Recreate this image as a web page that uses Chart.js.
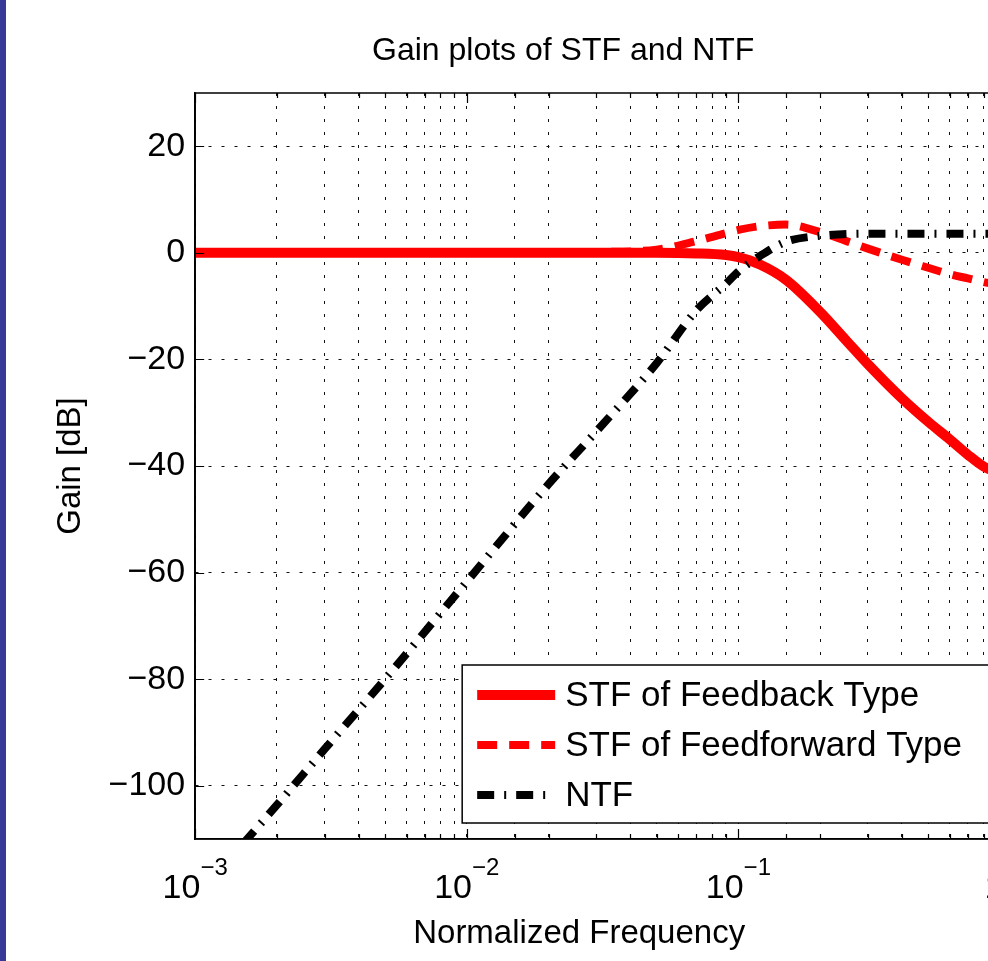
<!DOCTYPE html>
<html>
<head>
<meta charset="utf-8">
<script src="https://cdn.jsdelivr.net/npm/chart.js@4/dist/chart.umd.min.js"></script>
<style>
  html, body { margin: 0; padding: 0; background: #fff; overflow: hidden; }
  #wrap { position: relative; width: 988px; height: 961px; overflow: hidden; }
  #gainChart { position: absolute; left: 0; top: 0; }
  #stripe { position: absolute; left: 0; top: 0; width: 6px; height: 961px; background: #373898; }
</style>
</head>
<body>
<div id="wrap">
  <canvas id="gainChart" width="1126" height="961"></canvas>
  <div id="stripe"></div>
</div>
<script>
const FONT = "'Liberation Sans', Arial, Helvetica, sans-serif";

// (normalized frequency, gain in dB)
const stfFbFreq = [0.001, 0.01, 0.03, 0.05, 0.07, 0.09, 0.1, 0.12, 0.15, 0.2, 0.25, 0.3, 0.4, 0.5, 0.6, 0.7, 0.8, 0.9, 1];
const stfFbGain = [0, 0, 0, 0, -0.1, -0.4, -0.8, -2.2, -5.1, -11.1, -16.5, -20.9, -27.3, -31.7, -35.0, -37.9, -40.1, -41.2, -42.0];

const stfFfFreq = [0.001, 0.01, 0.02, 0.03, 0.05, 0.07, 0.09, 0.1, 0.12, 0.15, 0.2, 0.25, 0.3, 0.4, 0.5, 0.6, 0.7, 0.8, 0.9, 1];
const stfFfGain = [0, 0, 0.05, 0.15, 0.6, 2.2, 3.7, 4.3, 5.0, 5.3, 3.9, 2.2, 0.8, -1.3, -2.8, -4.0, -4.8, -5.5, -6.0, -6.4];

const ntfFreq = [0.0015, 0.002, 0.003, 0.005, 0.01, 0.02, 0.03, 0.05, 0.07, 0.09, 0.1, 0.12, 0.15, 0.2, 0.3, 0.5, 1];
const ntfGain = [-110.9, -103.6, -93.1, -80.0, -61.7, -43.4, -33.5, -20.7, -10.8, -5.8, -3.5, -0.6, 2.1, 3.2, 3.6, 3.6, 3.6];

const yTicks = [-100, -80, -60, -40, -20, 0, 20];

const toPoints = (xs, ys) => xs.map((f, i) => ({ x: f, y: ys[i] }));
const isDecade = (v) => Math.abs(Math.log10(v) - Math.round(Math.log10(v))) < 1e-6;
const minus = (v) => (v < 0 ? '\u2212' + Math.abs(v) : String(v));

// matlab-ish axes: inward ticks, closed box, title, 10^n labels, x label, legend box
const matlabAxes = {
  id: 'matlabAxes',
  afterDatasetsDraw(chart) {
    const { ctx, chartArea: a, scales: { x, y } } = chart;
    ctx.save();

    ctx.strokeStyle = '#000';
    ctx.lineWidth = 1.2;
    ctx.beginPath();
    x.ticks.forEach((t) => {
      const px = Math.round(x.getPixelForValue(t.value)) + 0.5;
      const len = isDecade(t.value) ? 10 : 5;
      ctx.moveTo(px, a.bottom); ctx.lineTo(px, a.bottom - len);
      ctx.moveTo(px, a.top); ctx.lineTo(px, a.top + len);
    });
    y.ticks.forEach((t) => {
      const py = Math.round(y.getPixelForValue(t.value)) + 0.5;
      ctx.moveTo(a.left, py); ctx.lineTo(a.left + 9, py);
      ctx.moveTo(a.right, py); ctx.lineTo(a.right - 9, py);
    });
    ctx.stroke();

    ctx.lineWidth = 1.5;
    ctx.strokeRect(a.left, a.top, a.right - a.left, a.bottom - a.top);

    ctx.fillStyle = '#000';

    // title (sits left of the axes centre in the original)
    ctx.font = `32px ${FONT}`;
    ctx.textAlign = 'center';
    ctx.textBaseline = 'alphabetic';
    ctx.fillText('Gain plots of STF and NTF', a.left + 368, a.top - 33);

    // decade labels
    ctx.textAlign = 'left';
    x.ticks.filter((t) => isDecade(t.value)).forEach((t) => {
      const px = x.getPixelForValue(t.value);
      const expText = minus(Math.round(Math.log10(t.value)));
      ctx.font = `34px ${FONT}`;
      const wBase = ctx.measureText('10').width;
      ctx.font = `24px ${FONT}`;
      const wExp = ctx.measureText(expText).width;
      const left = px - (wBase + wExp) / 2;
      ctx.font = `34px ${FONT}`;
      ctx.fillText('10', left, a.bottom + 59);
      ctx.font = `24px ${FONT}`;
      ctx.fillText(expText, left + wBase, a.bottom + 36);
    });

    // x label
    ctx.font = `33px ${FONT}`;
    ctx.textAlign = 'center';
    ctx.fillText('Normalized Frequency', a.left + 384, a.bottom + 104);

    // legend, lower right inside the axes
    const box = { left: a.left + 267, top: a.bottom - 174, right: a.right - 8, bottom: a.bottom - 16 };
    ctx.fillStyle = '#fff';
    ctx.fillRect(box.left, box.top, box.right - box.left, box.bottom - box.top);
    ctx.strokeStyle = '#000';
    ctx.lineWidth = 1.5;
    ctx.strokeRect(box.left, box.top, box.right - box.left, box.bottom - box.top);

    ctx.font = `35px ${FONT}`;
    ctx.textAlign = 'left';
    ctx.textBaseline = 'middle';
    chart.data.datasets.forEach((ds, i) => {
      const ry = box.top + 30 + i * 50;
      ctx.save();
      ctx.strokeStyle = ds.borderColor;
      ctx.lineWidth = ds.borderWidth;
      ctx.setLineDash(ds.borderDash || []);
      ctx.beginPath();
      ctx.moveTo(box.left + 15, ry);
      ctx.lineTo(box.left + 93, ry);
      ctx.stroke();
      ctx.restore();
      ctx.fillStyle = '#000';
      ctx.fillText(ds.label, box.left + 103, ry + 1);
    });

    ctx.restore();
  }
};

const gridOpts = { color: '#111', lineWidth: 1, drawTicks: false };
const borderOpts = { display: true, color: '#000', width: 1.5, dash: [3, 10] };

new Chart(document.getElementById('gainChart').getContext('2d'), {
  type: 'line',
  data: {
    datasets: [
      {
        label: 'STF of Feedback Type',
        data: toPoints(stfFbFreq, stfFbGain),
        borderColor: '#ff0000',
        borderWidth: 10,
        order: 3
      },
      {
        label: 'STF of Feedforward Type',
        data: toPoints(stfFfFreq, stfFfGain),
        borderColor: '#ff0000',
        borderWidth: 8,
        borderDash: [20, 12],
        order: 2
      },
      {
        label: 'NTF',
        data: toPoints(ntfFreq, ntfGain),
        borderColor: '#000000',
        borderWidth: 8,
        borderDash: [17, 10, 2, 10],
        order: 1
      }
    ].map((ds) => ({ ...ds, pointRadius: 0, cubicInterpolationMode: 'monotone', clip: 0, fill: false }))
  },
  options: {
    responsive: false,
    animation: false,
    layout: { padding: { left: 37, right: 116, top: 93, bottom: 122 } },
    plugins: {
      legend: { display: false },
      tooltip: { enabled: false },
      title: { display: false }
    },
    scales: {
      x: {
        type: 'logarithmic',
        min: 0.001,
        max: 1,
        ticks: { display: false, autoSkip: false },
        grid: gridOpts,
        border: borderOpts
      },
      y: {
        min: -110,
        max: 30,
        afterBuildTicks: (scale) => {
          scale.ticks = yTicks.map((v) => ({ value: v }));
        },
        ticks: {
          color: '#000',
          padding: 10,
          font: { family: FONT, size: 34 },
          callback: (v) => minus(v)
        },
        grid: gridOpts,
        border: borderOpts,
        title: {
          display: true,
          text: 'Gain [dB]',
          color: '#000',
          font: { family: FONT, size: 33 },
          padding: { top: 14, bottom: 8 }
        }
      }
    }
  },
  plugins: [matlabAxes]
});
</script>
</body>
</html>
